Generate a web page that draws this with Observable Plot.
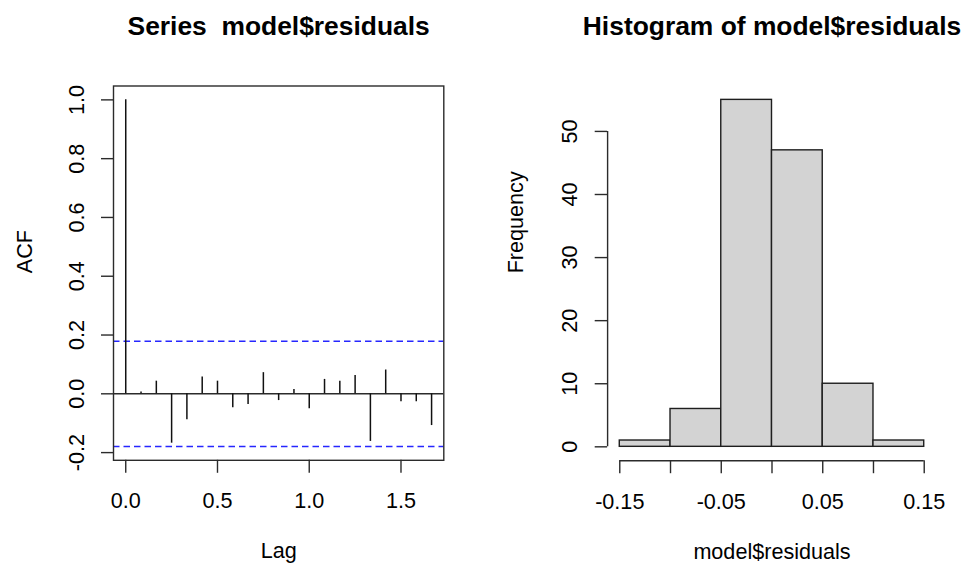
<!DOCTYPE html>
<html><head><meta charset="utf-8">
<script src="https://cdn.jsdelivr.net/npm/d3@7"></script>
<script src="https://cdn.jsdelivr.net/npm/@observablehq/plot@0.6"></script>
<style>
html,body{margin:0;padding:0;background:#fff;}
#wrap{position:relative;width:964px;height:567px;display:flex;overflow:hidden;}
#wrap svg{display:block;flex:none;}
</style></head><body><div id="wrap"></div>
<script>
// ---- ACF panel data ----
const acfTitle = "Series  model$residuals";
const acfXLabel = "Lag";
const acfYLabel = "ACF";
const lags = [0, 0.0833, 0.1667, 0.25, 0.3333, 0.4167, 0.5, 0.5833, 0.6667, 0.75, 0.8333,
              0.9167, 1, 1.0833, 1.1667, 1.25, 1.3333, 1.4167, 1.5, 1.5833, 1.6667];
const acfValues = [1, 0.006, 0.043, -0.168, -0.088, 0.057, 0.043, -0.047, -0.036, 0.072, -0.023,
                   0.015, -0.051, 0.049, 0.043, 0.062, -0.162, 0.081, -0.027, -0.027, -0.108];
const confLimit = 0.179;
const acfXTicks = [0, 0.5, 1, 1.5];
const acfYTicks = [-0.2, 0, 0.2, 0.4, 0.6, 0.8, 1];

// ---- Histogram panel data ----
const histTitle = "Histogram of model$residuals";
const histXLabel = "model$residuals";
const histYLabel = "Frequency";
const histBreaks = [-0.15, -0.1, -0.05, 0, 0.05, 0.1, 0.15];
const histCounts = [1, 6, 55, 47, 10, 1];
const histXLabels = [-0.15, -0.05, 0.05, 0.15];
const histYTicks = [0, 10, 20, 30, 40, 50];

const acfRows = lags.map((lag, i) => ({lag, acf: acfValues[i]}));
const histRows = histCounts.map((count, i) => ({x1: histBreaks[i], x2: histBreaks[i + 1], count}));

const font = "'Liberation Sans', Arial, Helvetica, sans-serif";
const fs = 21.6;
const titleFs = 26.4;
const lineCol = "#2b2b2b";
const style = {fontFamily: font, fontSize: fs + "px", color: "#000", background: "#fff", overflow: "visible"};

const left = Plot.plot({
  width: 482, height: 567,
  marginLeft: 113, marginRight: 38.7, marginTop: 85.5, marginBottom: 107.2,
  x: {domain: [-0.0667, 1.7333]},
  y: {domain: [-0.2262, 1.0472]},
  style,
  marks: [
    Plot.ruleY([confLimit, -confLimit], {stroke: "#2626ff", strokeWidth: 1.4, strokeDasharray: "6.5,4"}),
    Plot.ruleY([0], {stroke: lineCol, strokeWidth: 1.4}),
    Plot.ruleX(acfRows, {x: "lag", y1: 0, y2: "acf", stroke: "#111", strokeWidth: 1.5}),
    Plot.frame({stroke: lineCol, strokeWidth: 1.4}),
    Plot.axisX(acfXTicks, {tickSize: 13, tickPadding: 19.6, tickFormat: d => d.toFixed(1), label: null,
      stroke: lineCol, strokeWidth: 1.4, fontSize: fs, fill: "#000"}),
    Plot.axisY(acfYTicks, {tickSize: 12, tickPadding: 18, tickRotate: -90, tickFormat: d => d.toFixed(1), label: null,
      stroke: lineCol, strokeWidth: 1.4, fontSize: fs, fill: "#000"}),
    Plot.text([acfTitle], {text: d => d, frameAnchor: "top", dy: -51.5, lineAnchor: "bottom",
      fontSize: titleFs, fontWeight: "bold", fill: "#000"}),
    Plot.text([acfXLabel], {text: d => d, frameAnchor: "bottom", dy: 98, lineAnchor: "bottom", fontSize: fs, fill: "#000"}),
    Plot.text([acfYLabel], {text: d => d, frameAnchor: "left", dx: -82, rotate: -90, lineAnchor: "bottom", fontSize: fs, fill: "#000"})
  ]
});

const right = Plot.plot({
  width: 482, height: 567,
  marginLeft: 125.1, marginRight: 28.1, marginTop: 85.5, marginBottom: 106.8,
  x: {domain: [-0.162, 0.162]},
  y: {domain: [-2.2, 57.2]},
  style,
  marks: [
    Plot.rect(histRows, {x1: "x1", x2: "x2", y1: 0, y2: "count", fill: "#d3d3d3", stroke: "#1e1e1e", strokeWidth: 1.4}),
    Plot.ruleX([-0.162], {y1: histYTicks[0], y2: histYTicks[histYTicks.length - 1], stroke: lineCol, strokeWidth: 1.4}),
    Plot.ruleY([-2.2], {x1: histBreaks[0], x2: histBreaks[histBreaks.length - 1], stroke: lineCol, strokeWidth: 1.4}),
    Plot.axisX(histBreaks, {tickSize: 13, tickPadding: 19.6, label: null,
      tickFormat: d => histXLabels.some(v => Math.abs(v - d) < 1e-9) ? d.toFixed(2) : "",
      stroke: lineCol, strokeWidth: 1.4, fontSize: fs, fill: "#000"}),
    Plot.axisY(histYTicks, {tickSize: 12.4, tickPadding: 18.6, tickRotate: -90, tickFormat: d => String(d), label: null,
      stroke: lineCol, strokeWidth: 1.4, fontSize: fs, fill: "#000"}),
    Plot.text([histTitle], {text: d => d, frameAnchor: "top", dy: -51.5, lineAnchor: "bottom",
      fontSize: titleFs, fontWeight: "bold", fill: "#000"}),
    Plot.text([histXLabel], {text: d => d, frameAnchor: "bottom", dy: 98, lineAnchor: "bottom", fontSize: fs, fill: "#000"}),
    Plot.text([histYLabel], {text: d => d, frameAnchor: "left", dx: -85, rotate: -90, lineAnchor: "bottom", fontSize: fs, fill: "#000"})
  ]
});

const wrap = document.getElementById("wrap");
wrap.appendChild(left);
wrap.appendChild(right);
</script>
</body></html>
